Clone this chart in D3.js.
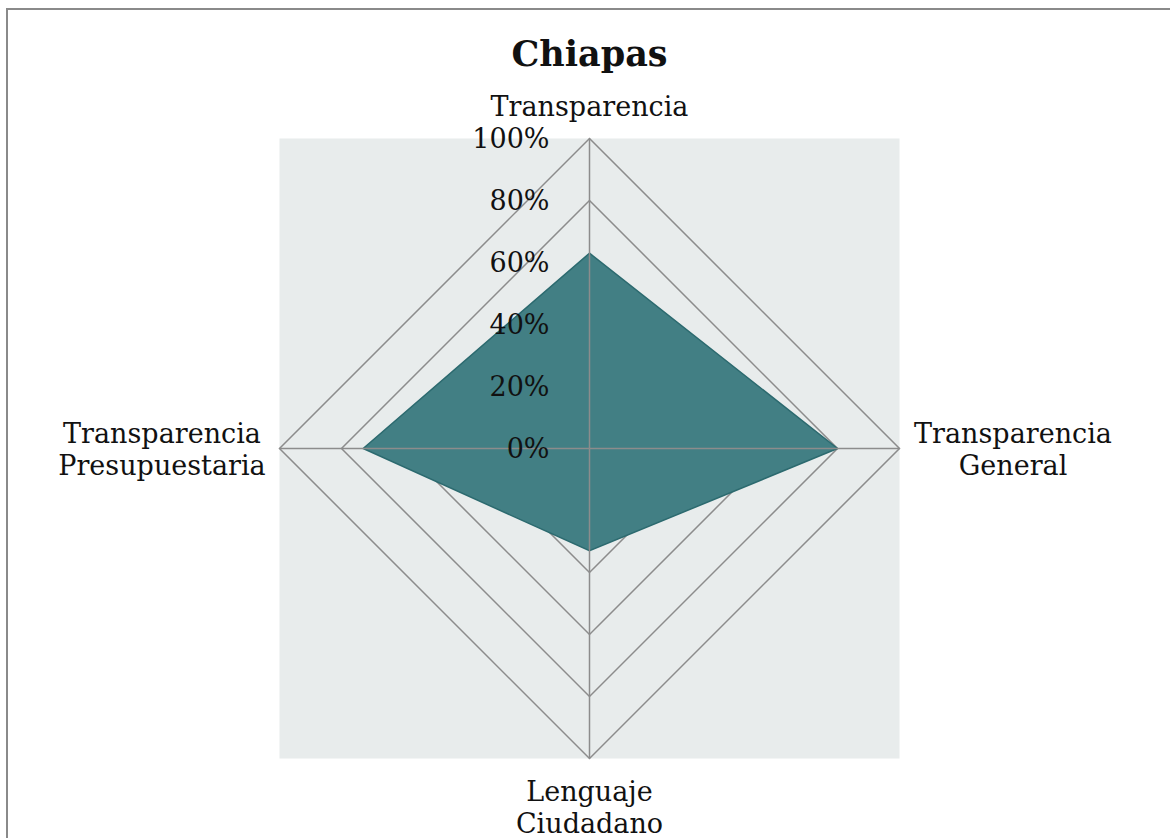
<!DOCTYPE html>
<html>
<head>
  <meta charset="utf-8">
  <script src="https://d3js.org/d3.v7.min.js"></script>
  <style>
    body { margin: 0; background: white; }
    text { font-family: "DejaVu Serif", Georgia, serif; fill: #111; }
  </style>
</head>
<body>
  <svg id="radar" width="1170" height="838"></svg>
  <script>
    const categories = [
      ["Transparencia"],
      ["Transparencia", "General"],
      ["Lenguaje", "Ciudadano"],
      ["Transparencia", "Presupuestaria"]
    ];
    const values = [0.63, 0.80, 0.33, 0.73];
    const ticks = [0, 0.2, 0.4, 0.6, 0.8, 1.0];

    const svg = d3.select("#radar");
    const cx = 589.5, cy = 448.5, R = 310;

    // outer frame
    svg.append("rect")
      .attr("x", 7).attr("y", 9).attr("width", 1200).attr("height", 900)
      .attr("fill", "none").attr("stroke", "#8a8a8a").attr("stroke-width", 2);

    svg.append("rect")
      .attr("x", cx - R).attr("y", cy - R).attr("width", 2 * R).attr("height", 2 * R)
      .attr("fill", "#e8ecec");

    const r = d3.scaleLinear().domain([0, 1]).range([0, R]);
    const angle = i => i * Math.PI / 2;
    const pt = (i, v) => [cx + r(v) * Math.sin(angle(i)), cy - r(v) * Math.cos(angle(i))];
    const line = d3.line().curve(d3.curveLinearClosed);

    // grid diamonds
    svg.append("g").selectAll("path")
      .data(ticks.filter(t => t > 0))
      .join("path")
      .attr("d", t => line(categories.map((c, i) => pt(i, t))))
      .attr("fill", "none").attr("stroke", "#8c8c8c").attr("stroke-width", 1.5);

    // data polygon
    svg.append("path")
      .attr("d", line(values.map((v, i) => pt(i, v))))
      .attr("fill", "#427f84").attr("stroke", "#2c6a6f").attr("stroke-width", 1.5);

    // spokes
    svg.append("g").selectAll("line")
      .data(categories)
      .join("line")
      .attr("x1", cx).attr("y1", cy)
      .attr("x2", (d, i) => pt(i, 1)[0]).attr("y2", (d, i) => pt(i, 1)[1])
      .attr("stroke", "#8c8c8c").attr("stroke-width", 1.5);

    // tick labels
    svg.append("g").selectAll("text")
      .data(ticks)
      .join("text")
      .attr("x", cx - 40).attr("y", t => cy - r(t))
      .attr("dy", "0.35em")
      .attr("text-anchor", "end")
      .attr("font-size", 27)
      .text(d3.format(".0%"));

    // axis labels
    const labelPos = [
      { x: cx, y: 116 },
      { x: 1013, y: 443 },
      { x: cx, y: 801 },
      { x: 162, y: 443 }
    ];
    categories.forEach((lines, i) => {
      const t = svg.append("text")
        .attr("x", labelPos[i].x).attr("y", labelPos[i].y)
        .attr("text-anchor", "middle")
        .attr("font-size", 27);
      lines.forEach((s, k) => {
        t.append("tspan").attr("x", labelPos[i].x).attr("dy", k === 0 ? 0 : 32).text(s);
      });
    });

    svg.append("text")
      .attr("x", cx).attr("y", 66)
      .attr("text-anchor", "middle")
      .attr("font-size", 35).attr("font-weight", "bold")
      .text("Chiapas");
  </script>
</body>
</html>
